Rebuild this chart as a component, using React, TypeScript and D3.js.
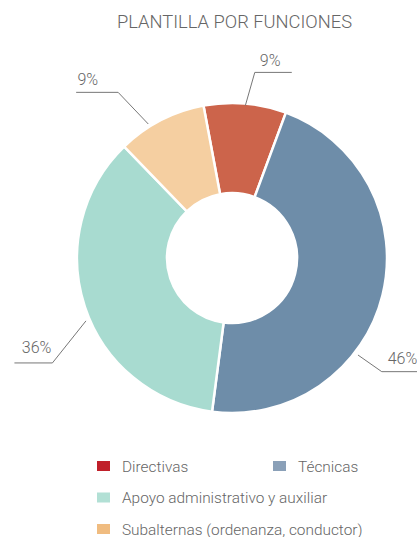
import React from 'react';
import * as d3 from 'd3';

// Chart data
const categories = ['Directivas', 'Técnicas', 'Apoyo administrativo y auxiliar', 'Subalternas (ordenanza, conductor)'];
const shares = [8.6, 46.4, 35.7, 9.3];
const percentLabels = ['9%', '46%', '36%', '9%'];
const sliceColors = ['#cc644b', '#6e8da9', '#a8dbd0', '#f5cfa1'];
const legendColors = ['#c0202a', '#8aa0b8', '#b2e0d5', '#f0bc80'];

// Leader line layout per slice: start angle/radius, elbow angle/radius, horizontal run, text offset
const leaders = [
  { a1: 5, r1: 153, a2: 7, r2: 187, run: 37, dx: 5, dy: -6, anchor: 'start' },
  { a1: 127.6, r1: 159, a2: 127.2, r2: 188, run: 40, dx: 6, dy: -8, anchor: 'start' },
  { a1: 246.7, r1: 159, a2: 239.7, r2: 208, run: -38, dx: -1, dy: -10, anchor: 'end' },
  { a1: 328, r1: 158, a2: 325.5, r2: 201, run: -42, dx: -20, dy: -7, anchor: 'end' },
];

const W = 417;
const H = 537;
const cx = 232;
const cy = 258;
const outerR = 155;
const innerR = 65;
const startDeg = -10.6;
const font = "Roboto, 'DejaVu Sans', sans-serif";
const textColor = '#666666';

const rad = (deg: number) => (deg * Math.PI) / 180;
const polar = (deg: number, r: number): [number, number] => [
  cx + r * Math.sin(rad(deg)),
  cy - r * Math.cos(rad(deg)),
];

export default function App() {
  const pie = d3
    .pie<number>()
    .sort(null)
    .value((d) => d)
    .startAngle(rad(startDeg))
    .endAngle(rad(startDeg + 360));
  const arcs = pie(shares);
  const arc = d3.arc<d3.PieArcDatum<number>>().innerRadius(innerR).outerRadius(outerR);

  return (
    <svg width={W} height={H} style={{ position: 'absolute', left: 0, top: 0, background: '#fff' }}>
      <text
        x={234.5}
        y={28}
        textAnchor="middle"
        fontFamily={font}
        fontWeight={300}
        fontSize={19}
        fill={textColor}
        textLength={235}
        lengthAdjust="spacingAndGlyphs"
      >
        PLANTILLA POR FUNCIONES
      </text>

      <g transform={`translate(${cx},${cy})`}>
        {arcs.map((a, i) => (
          <path key={i} d={arc(a) || ''} fill={sliceColors[i]} stroke="#fff" strokeWidth={2.5} />
        ))}
      </g>

      {leaders.map((l, i) => {
        const p1 = polar(l.a1, l.r1);
        const p2 = polar(l.a2, l.r2);
        const p3: [number, number] = [p2[0] + l.run, p2[1]];
        return (
          <g key={i}>
            <polyline
              points={[p1, p2, p3].map((p) => p.join(',')).join(' ')}
              fill="none"
              stroke="#777"
              strokeWidth={1}
            />
            <text
              x={p2[0] + l.dx}
              y={p2[1] + l.dy}
              textAnchor={l.anchor as any}
              fontFamily={font}
              fontWeight={300}
              fontSize={16}
              fill={textColor}
            >
              {percentLabels[i]}
            </text>
          </g>
        );
      })}

      {categories.map((c, i) => {
        const col = i === 1 ? 1 : 0;
        const row = i === 0 || i === 1 ? 0 : i - 1;
        const x = col === 0 ? 97 : 273;
        const y = 461 + row * 31.5;
        return (
          <g key={c}>
            <rect x={x} y={y} width={13} height={10} fill={legendColors[i]} />
            <text x={x + 25} y={y + 10.5} fontFamily={font} fontWeight={300} fontSize={15.4} fill={textColor}>
              {c}
            </text>
          </g>
        );
      })}
    </svg>
  );
}
